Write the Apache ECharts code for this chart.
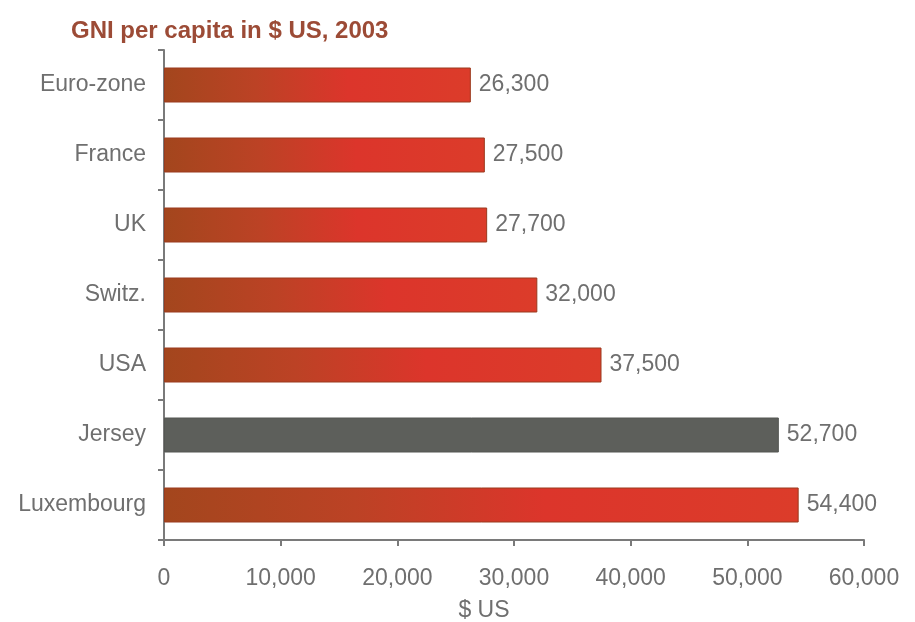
<!DOCTYPE html>
<html>
<head>
<meta charset="utf-8">
<script src="https://cdn.jsdelivr.net/npm/echarts@6/dist/echarts.min.js"></script>
<style>
  html, body { margin: 0; padding: 0; background: #fff; }
  #gniChart { width: 915px; height: 622px; }
</style>
</head>
<body>
<div id="gniChart"></div>
<script>
var countries = ['Euro-zone', 'France', 'UK', 'Switz.', 'USA', 'Jersey', 'Luxembourg'];
var gniValues = [26300, 27500, 27700, 32000, 37500, 52700, 54400];
var highlighted = ['Jersey'];

function renderGniChart(chartID) {
  var echarts = window.echarts;
  var chartDom = document.getElementById(chartID);
  var myChart = echarts.init(chartDom);
  var option;

  var redFill = new echarts.graphic.LinearGradient(0, 0, 1, 0, [
    { offset: 0, color: '#a3461d' },
    { offset: 0.3, color: '#bc4225' },
    { offset: 0.6, color: '#dc352b' },
    { offset: 1, color: '#dc3c2a' }
  ]);

  var fmt = function (v) {
    return String(v).replace(/\B(?=(\d{3})+(?!\d))/g, ',');
  };

  option = {
    textStyle: { fontFamily: 'Arial, "Liberation Sans", sans-serif' },
    title: {
      text: 'GNI per capita in $ US, 2003',
      left: 66,
      top: 14,
      textStyle: { color: '#9c4b36', fontSize: 24, fontWeight: 'bold' }
    },
    grid: { left: 164, right: 51, top: 50, bottom: 82, outerBoundsMode: 'none' },
    xAxis: {
      type: 'value',
      min: 0,
      max: 60000,
      interval: 10000,
      name: '$ US',
      nameLocation: 'middle',
      nameGap: 59,
      nameTextStyle: { color: '#6f6f6f', fontSize: 23, padding: [0, 60, 0, 0] },
      axisLine: { show: true, lineStyle: { color: '#7a7a7a', width: 2 } },
      axisTick: { show: true, length: 6, lineStyle: { color: '#7a7a7a', width: 2 } },
      axisLabel: { color: '#6f6f6f', fontSize: 23, margin: 27, formatter: fmt },
      splitLine: { show: false }
    },
    yAxis: {
      type: 'category',
      data: countries,
      inverse: true,
      axisLine: { show: true, lineStyle: { color: '#7a7a7a', width: 2 } },
      axisTick: { show: true, length: 6, lineStyle: { color: '#7a7a7a', width: 2 } },
      axisLabel: { color: '#6f6f6f', fontSize: 23, margin: 18 }
    },
    series: [
      {
        type: 'bar',
        barWidth: 35,
        data: gniValues.map(function (v, i) {
          var isHi = highlighted.indexOf(countries[i]) >= 0;
          return {
            value: v,
            itemStyle: {
              color: isHi ? '#5d5f5b' : redFill,
              borderColor: isHi ? '#555753' : '#9a3a1e',
              borderWidth: 1
            }
          };
        }),
        label: {
          show: true,
          position: 'right',
          distance: 8,
          color: '#6f6f6f',
          fontSize: 23,
          formatter: function (p) { return fmt(p.value); }
        },
        animation: false
      }
    ]
  };

  option && myChart.setOption(option);
}

renderGniChart('gniChart');
</script>
</body>
</html>
